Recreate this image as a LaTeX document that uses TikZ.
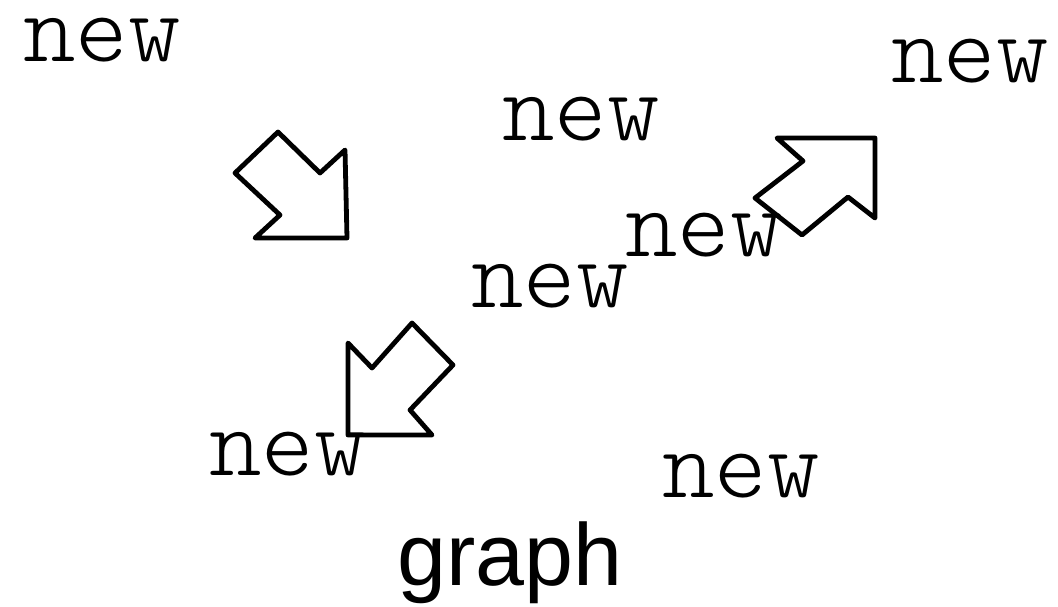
\documentclass[tikz,border=0pt]{standalone}
\usepackage{fontspec}
\newfontfamily\wordfont{Latin Modern Mono Light}
\newfontfamily\titlefont{Liberation Sans}
\tikzset{
  word/.style={anchor=base, inner sep=0pt, text height=0.45em, text depth=0pt,
    font=\wordfont\fontsize{50}{50}\selectfont},
  title/.style={anchor=base, inner sep=0pt, font=\titlefont\fontsize{44}{44}\selectfont},
  blockarrow/.style={draw, line width=2.4pt, line join=round, line cap=round}
}
\begin{document}
\begin{tikzpicture}[x=0.5pt, y=-0.5pt]
	\useasboundingbox (0,0) rectangle (1058,606);
	% words
	\node[word] (new1) at (102, 61) {new};
	\node[word] (new2) at (970, 82) {new};
	\node[word] (new3) at (581, 140) {new};
	\node[word] (new4) at (704, 256) {new};
	\node[word] (new5) at (550, 307) {new};
	\node[word] (new6) at (288, 475) {new};
	\node[word] (new7) at (741, 497) {new};
	\node[title] (graph) at (510, 585) {graph};
	% arrows
	\draw[blockarrow] (278,132) -- (320,173) -- (345,150) -- (347,238)
		-- (255,238) -- (280,215) -- (235,173) -- cycle;
	\draw[blockarrow] (777,138) -- (875,138) -- (875,218) -- (848,197)
		-- (802,235) -- (755,198) -- (803,161) -- cycle;
	\draw[blockarrow] (348,343) -- (372,368) -- (412,323) -- (453,365)
		-- (410,410) -- (432,435) -- (348,435) -- cycle;
\end{tikzpicture}
\end{document}
